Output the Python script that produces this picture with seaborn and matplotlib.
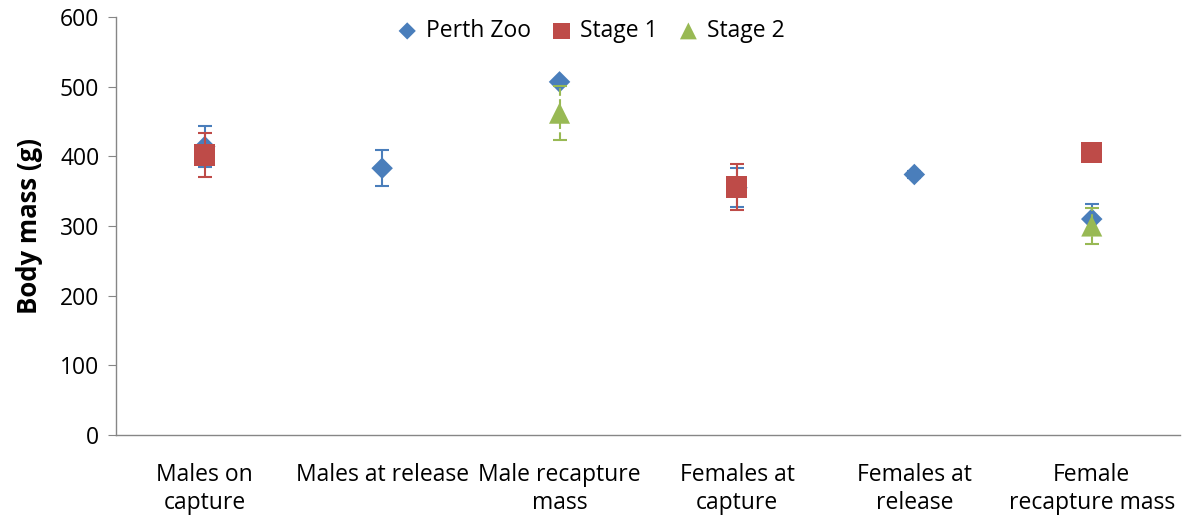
import numpy as np
import pandas as pd
import matplotlib
matplotlib.use("Agg")
import matplotlib.pyplot as plt
import seaborn as sns

categories = ["Males on\ncapture", "Males at release", "Male recapture\nmass",
              "Females at\ncapture", "Females at\nrelease", "Female\nrecapture mass"]

perth_zoo = [414, 383, 507, 355, 374, 310]
perth_zoo_err = [29, 26, 0, 28, 5, 21]
stage1 = [402, np.nan, np.nan, 356, np.nan, 405]
stage1_err = [32, np.nan, np.nan, 33, np.nan, 0]
stage2 = [np.nan, np.nan, 462, np.nan, np.nan, 300]
stage2_err = [np.nan, np.nan, 39, np.nan, np.nan, 26]

series = ["Perth Zoo", "Stage 1", "Stage 2"]
colors = {"Perth Zoo": "#4a7ebb", "Stage 1": "#be4b48", "Stage 2": "#98b954"}
markers = {"Perth Zoo": "D", "Stage 1": "s", "Stage 2": "^"}
sizes = {"Perth Zoo": 120, "Stage 1": 230, "Stage 2": 230}

rows = []
for name, vals, errs in [("Perth Zoo", perth_zoo, perth_zoo_err),
                         ("Stage 1", stage1, stage1_err),
                         ("Stage 2", stage2, stage2_err)]:
    for i, (v, e) in enumerate(zip(vals, errs)):
        if not np.isnan(v):
            rows.append({"series": name, "x": i, "mass": v, "err": e})
df = pd.DataFrame(rows)

sns.set_style("white")
plt.rcParams["font.family"] = ["Open Sans", "DejaVu Sans"]
plt.rcParams["text.color"] = "black"
plt.rcParams["axes.labelcolor"] = "black"
plt.rcParams["xtick.labelcolor"] = "black"
plt.rcParams["ytick.labelcolor"] = "black"

fig = plt.figure(figsize=(11.84, 5.19), dpi=100)
ax = fig.add_axes([0.098, 0.162, 0.899, 0.805])

for k, name in enumerate(series):
    sub = df[df["series"] == name]
    ls = "--" if name == "Stage 2" else "-"
    eb = ax.errorbar(sub["x"], sub["mass"], yerr=sub["err"], fmt="none",
                     ecolor=colors[name], elinewidth=1.5, capsize=5,
                     capthick=1.5, zorder=2 + 2 * k)
    for lc in eb[2]:
        lc.set_linestyle(ls)
    sns.scatterplot(data=sub, x="x", y="mass", marker=markers[name],
                    color=colors[name], s=sizes[name], edgecolor="none",
                    label=name, ax=ax, zorder=3 + 2 * k)

ax.set_xlim(-0.5, 5.5)
ax.set_ylim(0, 600)
ax.set_yticks(range(0, 601, 100))
ax.set_xticks(range(6))
ax.set_xticklabels(categories, fontsize=16.5, linespacing=1.25)
ax.tick_params(axis="x", length=0, pad=20, labelcolor="black")
ax.set_xticks(np.arange(-0.5, 5.6, 1), minor=True)
ax.tick_params(axis="x", which="minor", length=6, color="#868686", direction="out")
ax.tick_params(axis="y", labelsize=16.5, length=6, color="#868686",
               direction="out", left=True, pad=6, labelcolor="black")
ax.set_xlabel("")
ax.set_ylabel("Body mass (g)", fontsize=18.5, fontweight="bold", labelpad=12,
              color="black")

for side in ["top", "right"]:
    ax.spines[side].set_visible(False)
for side in ["left", "bottom"]:
    ax.spines[side].set_color("#868686")
    ax.spines[side].set_linewidth(1)

leg = ax.legend(loc="upper center", bbox_to_anchor=(0.44, 1.045), ncol=3,
                frameon=False, fontsize=16.5, handletextpad=-0.2,
                columnspacing=0.35, markerscale=0.8)
for t in leg.get_texts():
    t.set_color("black")

fig.savefig("out.png", dpi=100)
